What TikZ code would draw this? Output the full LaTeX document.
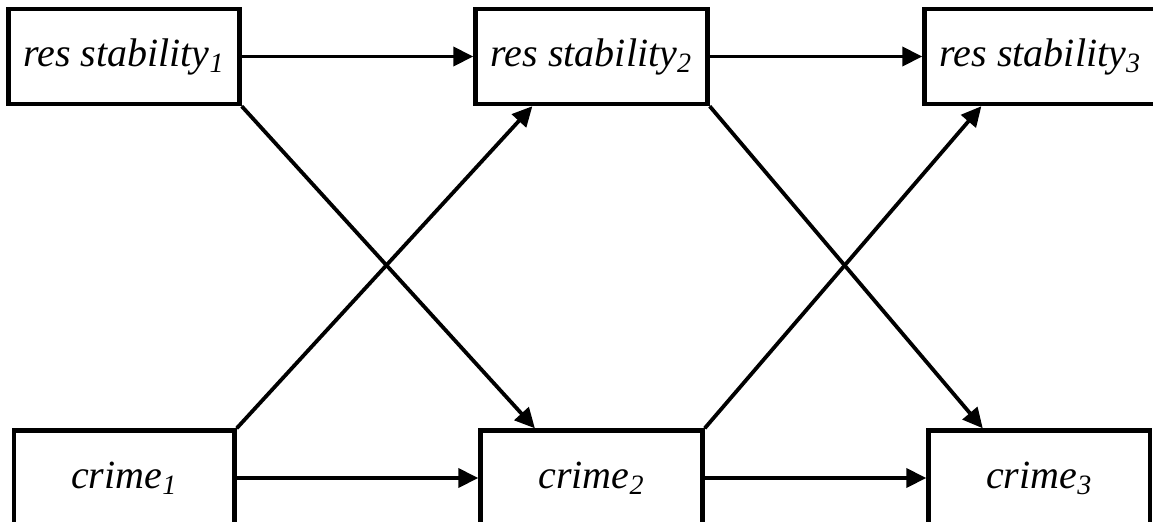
\documentclass[tikz,border=0pt]{standalone}
\usepackage{fontspec}
\setmainfont{Liberation Serif}
\usetikzlibrary{arrows.meta,calc}

\tikzset{
	var/.style={draw, line width=2.2pt, minimum height=47.5pt, inner sep=0pt, font=\fontsize{20}{24}\selectfont\itshape},
	link/.style={line width=1.9pt, -{Triangle[length=10pt,width=9.5pt]}}
}

\begin{document}
\begin{tikzpicture}[x=0.5pt,y=-0.5pt]
\clip (0,0) rectangle (1153,521);

\node[var, minimum width=115.5pt] (r1) at (124,56.5) {res stability\textsubscript{1}};
\node[var, minimum width=116pt] (r2) at (591.5,56.5) {res stability\textsubscript{2}};
\node[var, minimum width=116pt] (r3) at (1040.5,56.5) {res stability\textsubscript{3}};

\node[var, minimum width=110.25pt] (c1) at (124.25,478) {crime\textsubscript{1}};
\node[var, minimum width=111pt] (c2) at (591.5,478) {crime\textsubscript{2}};
\node[var, minimum width=110.75pt] (c3) at (1039.25,478) {crime\textsubscript{3}};

\draw[link] (r1) -- (r2);
\draw[link] (r2) -- (r3);
\draw[link] (c1) -- (c2);
\draw[link] (c2) -- (c3);

\draw[link] (r1.south east) -- ($(c2.north west)!0.25!(c2.north east)$);
\draw[link] (c1.north east) -- ($(r2.south west)!0.25!(r2.south east)$);
\draw[link] (r2.south east) -- ($(c3.north west)!0.25!(c3.north east)$);
\draw[link] (c2.north east) -- ($(r3.south west)!0.25!(r3.south east)$);

\end{tikzpicture}
\end{document}
